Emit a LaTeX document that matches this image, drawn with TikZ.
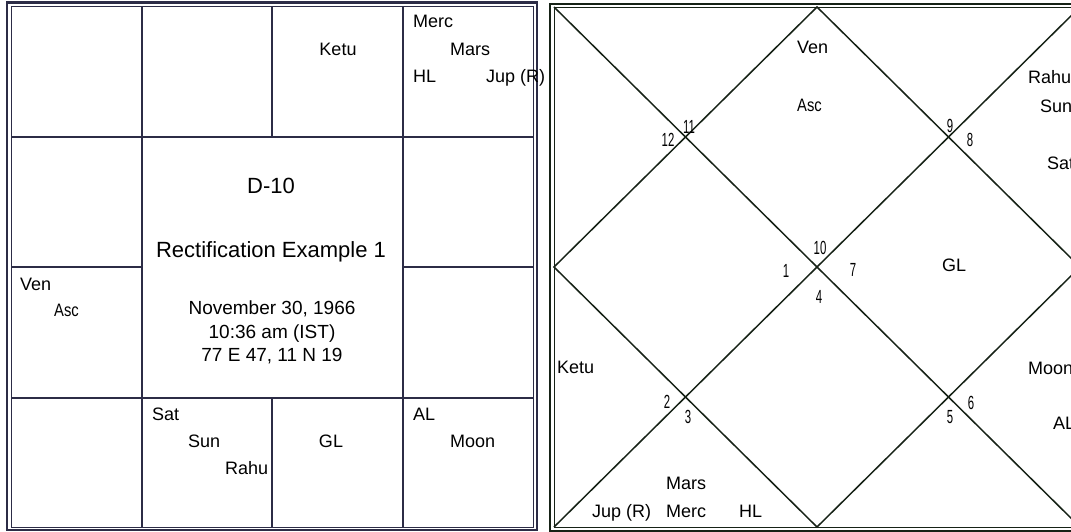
\documentclass[tikz,border=0pt]{standalone}
\usepackage{fontspec}
\setmainfont{Liberation Sans}
\newfontfamily\narrowsans[FakeStretch=0.82]{Liberation Sans}
\newfontfamily\numsans[FakeStretch=0.6]{Liberation Sans}
\usepackage{xcolor}
\definecolor{chartnavy}{RGB}{44,44,70}
\definecolor{chartgreen}{RGB}{22,34,22}
\usepackage{tikz}
\usetikzlibrary{calc}

\tikzset{
  planet/.style={font=\fontsize{18}{20}\selectfont, inner sep=0pt, text height=13pt, text depth=0pt},
  planetl/.style={planet, anchor=west},
  ascl/.style={planet, anchor=west, font=\fontsize{18}{20}\narrowsans},
  titletext/.style={font=\fontsize{22}{24}\selectfont, inner sep=0pt, text height=16pt, text depth=0pt},
  datetext/.style={font=\fontsize{19}{21}\selectfont, inner sep=0pt, text height=13.6pt, text depth=0pt},
  housenum/.style={font=\fontsize{19}{21}\numsans, inner sep=0pt, text height=13.6pt, text depth=0pt},
  gridline/.style={chartnavy, line width=2pt},
  diagline/.style={chartgreen, line width=1.5pt}
}

\begin{document}
\begin{tikzpicture}[x=1pt, y=-1pt]
  \useasboundingbox (0,0) rectangle (1071,531);
  \clip (0,0) rectangle (1071,531);
  \fill[white] (0,0) rectangle (1071,531);

  % south chart frame and cells
  \draw[chartnavy, line width=2.2pt] (7,2.5) rectangle (537,530);
  \draw[chartnavy, line width=1pt] (11,6) rectangle (533.5,527.5);

  \coordinate (c1t) at (142,6);   \coordinate (c1b) at (142,527.5);
  \coordinate (c2t) at (272,6);   \coordinate (c2b) at (272,527.5);
  \coordinate (c3t) at (403,6);   \coordinate (c3b) at (403,527.5);
  \coordinate (r1l) at (11,137);  \coordinate (r1r) at (533.5,137);
  \coordinate (r2l) at (11,267);  \coordinate (r2r) at (533.5,267);
  \coordinate (r3l) at (11,398);  \coordinate (r3r) at (533.5,398);

  \draw[gridline] (c1t) -- (c1b);
  \draw[gridline] (c3t) -- (c3b);
  \draw[gridline] (c2t) -- (c2t |- r1l);
  \draw[gridline] (c2t |- r3l) -- (c2b);
  \draw[gridline] (r1l) -- (r1r);
  \draw[gridline] (r3l) -- (r3r);
  \draw[gridline] (r2l) -- (r2l -| c1t);
  \draw[gridline] (r2l -| c3t) -- (r2r);

  % centre panel
  \node[titletext] (dnum) at (271,185) {D-10};
  \node[titletext] (rectnote) at (271,249) {Rectification Example 1};
  \node[datetext] (birthdate) at (272,308) {November 30, 1966};
  \node[datetext] (birthtime) at (272,332) {10:36 am (IST)};
  \node[datetext] (birthplace) at (272,355) {77 E 47, 11 N 19};

  % south chart planets
  \node[planet] (lketu) at (338,49) {Ketu};
  \node[planetl] (lmerc) at (413,21) {Merc};
  \node[planetl] (lmars) at (450,49) {Mars};
  \node[planetl] (lhl) at (413,76) {HL};
  \node[planetl] (ljup) at (486,76) {Jup (R)};
  \node[planetl] (lven) at (20,284) {Ven};
  \node[ascl] (lasc) at (54,310) {Asc};
  \node[planetl] (lsat) at (152,414) {Sat};
  \node[planetl] (lsun) at (188,441) {Sun};
  \node[planetl] (lrahu) at (225,468) {Rahu};
  \node[planet] (lgl) at (331,441) {GL};
  \node[planetl] (lal) at (413,414) {AL};
  \node[planetl] (lmoon) at (450,441) {Moon};

  % north chart frame and lines
  \draw[chartgreen, line width=2pt] (550,3.5) rectangle (1090,530.5);
  \draw[chartgreen, line width=1pt] (554,7) rectangle (1080,527);

  \coordinate (nw) at (554,7);    \coordinate (ne) at (1080,7);
  \coordinate (sw) at (554,527);  \coordinate (se) at (1080,527);
  \coordinate (nmid) at (817,7);  \coordinate (smid) at (817,527);
  \coordinate (wmid) at (554,267);\coordinate (emid) at (1080,267);

  \draw[diagline] (nw) -- (se);
  \draw[diagline] (ne) -- (sw);
  \draw[diagline] (nmid) -- (emid) -- (smid) -- (wmid) -- cycle;

  % house numbers
  \node[housenum] (h1) at (786,271) {1};
  \node[housenum] (h2) at (667,402) {2};
  \node[housenum] (h3) at (688,417) {3};
  \node[housenum] (h4) at (819,297) {4};
  \node[housenum] (h5) at (950,417) {5};
  \node[housenum] (h6) at (971,403) {6};
  \node[housenum] (h7) at (853,270) {7};
  \node[housenum] (h8) at (970,140) {8};
  \node[housenum] (h9) at (950,126) {9};
  \node[housenum] (h10) at (820,248) {10};
  \node[housenum] (h11) at (689,127) {11};
  \node[housenum] (h12) at (668,140) {12};

  % north chart planets
  \node[planetl] (rven) at (797,47) {Ven};
  \node[ascl] (rasc) at (797,105) {Asc};
  \node[planetl] (rrahu) at (1028,77) {Rahu};
  \node[planetl] (rsun) at (1040,106) {Sun};
  \node[planetl] (rsat) at (1047,163) {Sat};
  \node[planet] (rgl) at (954,265) {GL};
  \node[planetl] (rketu) at (557,367) {Ketu};
  \node[planetl] (rmoon) at (1028,368) {Moon};
  \node[planetl] (ral) at (1053,423) {AL};
  \node[planetl] (rmars) at (666,483) {Mars};
  \node[planetl] (rjup) at (592,511) {Jup (R)};
  \node[planetl] (rmerc) at (666,511) {Merc};
  \node[planetl] (rhl) at (739,511) {HL};
\end{tikzpicture}
\end{document}
